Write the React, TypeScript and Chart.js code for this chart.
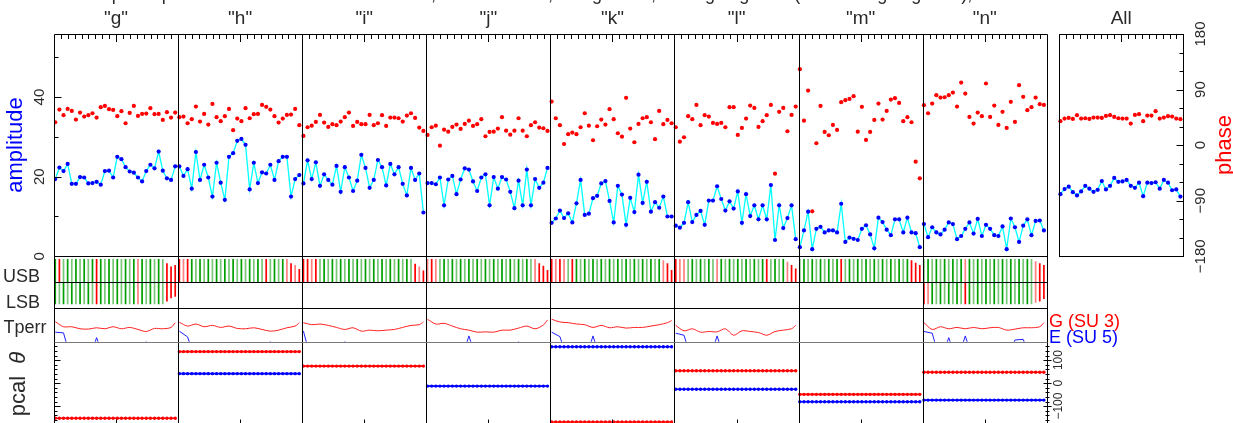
import React, { useEffect, useRef } from 'react';
import { Chart, registerables } from 'chart.js';
Chart.register(...registerables);

const W = 1233;
const H = 440;
const VIEW_H = 423;
const FONT = '"Liberation Sans", Arial, sans-serif';

// ---------- data ----------
const panelNames = ['"g"', '"h"', '"i"', '"j"', '"k"', '"l"', '"m"', '"n"'];
const allName = 'All';
const titleText = 'Amp and phase vs channel for baseline 3-5, sideband usb, 8 segments, 1 integ/segment (1 scan avg/segment), all data';

const ampG = [19.4,22.3,21.4,23.2,18.2,18.2,19.9,19.8,18.3,18.4,18.7,18.0,21.4,21.5,19.8,25.0,24.4,22.4,21.3,21.0,19.8,18.8,21.4,23.0,22.1,26.3,21.5,19.6,19.2,22.6];
const ampH = [22.6,20.2,21.9,17.0,26.2,19.2,23.0,19.8,15.0,23.5,18.5,14.2,25.0,25.9,29.0,29.5,28.0,16.8,23.5,18.4,21.1,20.8,23.0,19.2,23.9,25.0,25.0,15.0,19.4,20.4];
const ampI = [18.3,24.1,19.4,23.6,17.7,20.6,19.2,18.0,22.7,16.2,22.4,19.8,16.4,19.0,25.5,22.2,17.2,19.2,24.2,22.4,17.8,23.2,20.6,22.4,18.2,15.3,22.2,19.2,20.8,11.0];
const ampJ = [18.4,18.4,18.1,19.8,12.8,19.3,20.2,15.6,19.3,22.1,21.8,18.8,16.4,19.8,20.6,12.8,19.9,17.0,19.9,19.3,16.2,12.1,19.0,12.8,21.8,12.8,19.4,17.2,18.5,22.2];
const ampK = [8.4,9.5,11.5,9.6,10.8,8.5,13.3,19.2,10.4,10.7,14.6,15.2,18.3,18.9,13.9,8.5,17.7,15.5,7.9,14.7,11.1,20.5,13.4,18.7,11.2,13.6,12.2,15.0,10.0,10.0];
const ampL = [7.7,7.2,8.4,13.6,8.6,10.4,11.4,7.9,14.0,14.0,17.6,14.4,11.5,13.8,12.0,16.3,8.4,15.6,10.1,12.8,9.3,12.8,9.3,17.9,4.1,12.8,7.1,9.6,12.8,4.3];
const ampM = [2.3,6.5,11.2,1.8,6.9,7.4,6.0,6.5,6.5,6.0,13.2,3.6,4.7,4.4,4.1,6.9,7.8,5.5,2.0,9.7,8.6,6.7,5.3,9.3,9.3,6.0,9.7,6.0,5.8,2.3];
const ampN = [8.1,4.8,7.3,6.0,5.5,6.7,8.5,8.1,4.3,5.1,6.9,8.5,5.7,9.4,5.1,7.9,6.9,5.3,5.1,7.5,1.8,9.5,7.3,3.6,7.7,9.3,5.3,8.9,9.0,6.5];
const ampAll = [15.6,16.9,17.5,16.1,15.3,16.3,17.7,17.0,16.2,16.7,18.9,16.8,17.7,19.7,18.7,18.8,19.2,17.7,17.2,18.5,15.1,18.5,18.4,18.6,17.0,19.2,18.5,16.6,16.8,15.0];

const phaseG = [37.1,57.6,48.5,58.7,55.5,41.4,52.7,46.2,48.5,51.7,44.6,61.5,63.6,58.2,57.1,46.9,55.0,35.5,52.2,63.6,47.4,50.6,51.1,59.9,50.1,50.6,40.9,53.4,44.6,52.7];
const phaseH = [45.3,46.2,35.5,42.0,62.5,38.1,50.6,33.3,66.8,45.3,38.8,46.9,58.7,24.2,43.0,38.8,59.9,43.6,50.1,50.6,65.2,62.0,57.6,46.9,36.5,43.0,49.0,49.5,58.7,32.3];
const phaseI = [14.9,29.0,31.6,37.6,49.0,36.5,29.5,33.9,32.3,38.1,45.3,52.7,31.1,37.6,33.9,33.9,49.0,32.3,35.5,48.5,31.1,44.6,44.6,43.6,38.1,47.9,51.7,44.1,28.4,23.0];
const phaseJ = [16.5,29.0,31.6,-0.8,25.1,21.9,29.5,33.3,26.3,34.4,39.7,31.1,33.9,42.0,14.4,21.4,21.9,26.8,45.3,23.5,17.0,23.5,43.6,23.5,14.4,32.3,37.1,28.4,27.4,23.0];
const phaseK = [70.6,43.6,32.3,1.9,17.7,20.3,17.7,29.0,51.7,31.6,7.9,30.6,41.4,33.3,58.2,42.0,19.3,13.8,76.6,26.8,4.7,34.4,43.6,45.3,37.1,9.6,55.5,33.9,40.9,35.5];
const phaseL = [29.0,5.7,12.8,46.9,42.0,65.2,32.3,48.5,46.2,36.0,34.4,36.0,29.0,61.5,61.5,16.5,27.9,43.0,64.1,60.3,29.5,38.8,48.5,65.2,-46.2,53.9,60.3,22.5,49.0,62.5];
const phaseM = [123.1,39.7,88.4,-107.2,3.1,63.6,21.4,16.0,32.8,24.7,69.6,72.8,74.9,79.3,21.9,62.0,8.4,21.4,40.9,67.3,41.4,55.5,73.8,76.1,68.4,38.8,45.3,37.1,-26.7,-53.7];
const phaseN = [64.7,51.7,67.3,80.9,77.0,77.6,80.9,85.2,62.5,101.4,83.5,45.7,34.9,52.7,46.9,99.8,45.7,64.1,32.8,53.9,27.9,70.1,37.6,97.2,78.2,56.6,61.5,77.0,66.3,65.2];
const phaseAll = [38.8,43.0,44.1,42.5,48.5,43.0,43.6,42.5,44.6,44.6,44.1,47.4,48.5,45.7,43.6,43.0,43.0,34.9,49.0,50.1,38.8,47.9,47.9,55.0,43.0,44.6,46.9,46.2,43.0,42.0];

// sideband bar colour codes: G dark green, g light green, R red, r light red
const usbCodes = [
  'GRgGgGgGgGRGgGgGgGgGrGgGgGgRRR',
  'RrRGgGgGgGgGgGgGgGgGgRgGgGrRrR',
  'RRrRgGgGgGgGgGgGgGgGgGgGgGgRrR',
  'rRrgGgGgGgGgGgGgGgGgGgGgGgrRRR',
  'RrRrgRGgGgGgGgGgGgGgGgGgGgGrRR',
  'RrrgGgGgGgrGgGgGgGgGgGRgGgGrRR',
  'gGgGgGgGgGRgGgGgGgGgGgGgGgGRRR',
  'gGgGgGgGgGrGgGgGgGgGgGgGgGgrRR',
];
const usbTails = [[0.81,0.67,0.74],[0.81,0.74,0.57],[0.79,0.67,0.5],[0.81,0.71,0.52],[0.95,0.81,0.52],[0.88,0.74,0.59],[0.95,0.84,0.74],[0.9,0.81,0.74]];
const lsbCodes = ['GgGgGgGgGgRGgGgGgGgGrGgGgGgRRR', null, null, null, null, null, null, 'RrGgGgGgGgRGgGgGgGgGgGgGgGgrRR'];
const lsbTails = [[0.85,0.71,0.64], null, null, null, null, null, null, [0.9,0.85,0.74]];
const lsbFull = 0.97;

// Tperr, sampled at these channels
const tperrChannels = [0,2,4,6,8,10,12,14,16,18,20,22,24,26,28,29];
const tperrRedG = [0.59,0.44,0.44,0.38,0.37,0.41,0.38,0.44,0.38,0.42,0.36,0.30,0.39,0.38,0.42,0.56];
const tperrRedH = [0.57,0.46,0.52,0.44,0.48,0.42,0.46,0.39,0.38,0.41,0.36,0.31,0.34,0.41,0.46,0.56];
const tperrRedI = [0.56,0.50,0.52,0.48,0.42,0.36,0.41,0.31,0.34,0.32,0.34,0.36,0.42,0.48,0.50,0.58];
const tperrRedJ = [0.66,0.52,0.54,0.46,0.38,0.34,0.28,0.29,0.28,0.34,0.34,0.40,0.46,0.38,0.49,0.64];
const tperrRedK = [0.66,0.58,0.56,0.52,0.50,0.42,0.48,0.41,0.44,0.40,0.42,0.42,0.46,0.50,0.56,0.62];
const tperrRedL = [0.48,0.32,0.38,0.28,0.30,0.29,0.38,0.19,0.32,0.30,0.27,0.19,0.30,0.34,0.38,0.48];
const tperrRedN = [0.56,0.36,0.44,0.38,0.42,0.38,0.42,0.38,0.41,0.42,0.34,0.37,0.41,0.41,0.44,0.56];
const tperrBlueG = [0.28,0.26,-0.6,-0.6,-0.6,0.12,-0.6,-0.6,-0.6,-0.6,-0.6,0.0,-0.6,-0.6,-0.6,-0.6];
const tperrBlueH = [0.31,0.14,-0.6,-0.6,-0.6,-0.6,-0.6,-0.6,-0.6,-0.6,-0.6,0.0,-0.6,-0.6,-0.6,-0.6];
const tperrBlueI = [0.31,-0.6,-0.6,-0.6,-0.6,0.0,-0.6,-0.6,-0.6,-0.6,-0.6,-0.6,-0.6,-0.6,-0.6,-0.6];
const tperrBlueJ = [-0.6,-0.6,-0.6,-0.6,-0.6,0.17,-0.6,-0.6,-0.6,-0.6,-0.6,0.0,-0.6,-0.6,-0.6,-0.6];
const tperrBlueK = [0.28,0.15,-0.6,-0.6,-0.6,0.17,-0.6,-0.6,-0.6,-0.6,-0.6,-0.6,-0.6,-0.6,-0.6,-0.6];
const tperrBlueL = [0.25,0.19,-0.6,-0.6,-0.6,0.17,-0.6,-0.6,-0.6,-0.6,-0.6,-0.6,-0.6,-0.6,-0.6,-0.6];
const tperrBlueN = [0.30,0.25,-0.6,0.12,-0.6,0.17,-0.6,-0.6,-0.6,-0.6,-0.6,0.05,0.07,-0.6,-0.6,-0.6];

const pcalRed = [-153, 137, 74, null, -169, 54, -49, 47];
const pcalBlue = [null, 41, null, -13, 158, -27, -81, -74];

const ampTicks = [0, 20, 40];
const phaseTicks = [-180, -90, 0, 90, 180];
const pcalTicks = [-100, 0, 100];

// ---------- layout ----------
const PANEL_CH = 30;
const ALL_OFFSET = 243;
const X_MAX = 273;
const ROW = { top: 34, ampBottom: 256.3, sbMid: 282, sbBottom: 307.7, tpBottom: 341.7, bottom: 424.5 };
const AREA_LEFT = 54;
const AREA_RIGHT = 1183.3;

function rowRange(top: number, bottom: number, vTop: number, vBottom: number) {
  const ppu = (bottom - top) / (vTop - vBottom);
  return { min: vBottom - (ROW.bottom - bottom) / ppu, max: vTop + (top - ROW.top) / ppu };
}
const AMP_TOP = 55.85;
const ampRange = rowRange(ROW.top, ROW.ampBottom, AMP_TOP, 0);
const phRange = rowRange(ROW.top, ROW.ampBottom, 180, -180);
const sbRange = rowRange(ROW.sbMid - 23, ROW.sbMid + 23, 1, -1);
const tpRange = rowRange(ROW.sbBottom, ROW.tpBottom, 1, 0);
const pcRange = rowRange(ROW.tpBottom, ROW.bottom, 180, -180);

const colourOf: Record<string, string> = { G: '#00a000', g: '#78c878', R: '#ff0000', r: '#ff8080' };
const chX = (p: number, c: number) => p * PANEL_CH + c + 0.3;
const clipRow = (top: number, bottom: number) => ({ left: 0, right: 0, top: -(top - ROW.top), bottom: -(ROW.bottom - bottom) });

function buildDatasets() {
  const ds: any[] = [];
  const amps = [ampG, ampH, ampI, ampJ, ampK, ampL, ampM, ampN];
  const phases = [phaseG, phaseH, phaseI, phaseJ, phaseK, phaseL, phaseM, phaseN];
  const tRed = [tperrRedG, tperrRedH, tperrRedI, tperrRedJ, tperrRedK, tperrRedL, null, tperrRedN];
  const tBlue = [tperrBlueG, tperrBlueH, tperrBlueI, tperrBlueJ, tperrBlueK, tperrBlueL, null, tperrBlueN];
  const ampSets = amps.map((a, p) => ({ arr: a, base: p * PANEL_CH }));
  ampSets.push({ arr: ampAll, base: ALL_OFFSET });
  const phSets = phases.map((a, p) => ({ arr: a, base: p * PANEL_CH }));
  phSets.push({ arr: phaseAll, base: ALL_OFFSET });

  phSets.forEach(({ arr, base }) => {
    ds.push({
      type: 'line', yAxisID: 'yPh', showLine: false, order: 1,
      data: arr.map((v, c) => ({ x: base + c + 0.3, y: v })),
      pointRadius: 2.1, pointBackgroundColor: '#ff0000', pointBorderWidth: 0, borderColor: '#ff0000',
    });
  });
  ampSets.forEach(({ arr, base }) => {
    ds.push({
      type: 'line', yAxisID: 'yAmp', order: 2,
      data: arr.map((v, c) => ({ x: base + c + 0.3, y: v })),
      borderColor: '#00ffff', borderWidth: 1.3, tension: 0,
      pointRadius: 2.1, pointBackgroundColor: '#0000ff', pointBorderWidth: 0,
    });
  });
  // sideband bars
  const usbData: any[] = [];
  const usbCols: string[] = [];
  usbCodes.forEach((code, p) => {
    const tail = usbTails[p];
    for (let c = 0; c < PANEL_CH; c++) {
      const ti = c - (PANEL_CH - tail.length);
      usbData.push({ x: chX(p, c), y: ti >= 0 ? tail[ti] : 1 });
      usbCols.push(colourOf[code[c]]);
    }
  });
  const barStyle = { barThickness: 1.7, grouped: false, borderWidth: 0, inflateAmount: 0, order: 3 };
  ds.push({ type: 'bar', yAxisID: 'ySb', data: usbData, backgroundColor: usbCols, ...barStyle });
  const lsbData: any[] = [];
  const lsbCols: string[] = [];
  lsbCodes.forEach((code, p) => {
    if (!code) return;
    const tail = lsbTails[p] as number[];
    for (let c = 0; c < PANEL_CH; c++) {
      const ti = c - (PANEL_CH - tail.length);
      lsbData.push({ x: chX(p, c), y: -(ti >= 0 ? tail[ti] : lsbFull) });
      lsbCols.push(colourOf[code[c]]);
    }
  });
  ds.push({ type: 'bar', yAxisID: 'ySb', data: lsbData, backgroundColor: lsbCols, ...barStyle });
  // Tperr
  const tclip = clipRow(ROW.sbBottom, ROW.tpBottom);
  tRed.forEach((arr, p) => {
    if (!arr) return;
    ds.push({ type: 'line', yAxisID: 'yTp', data: arr.map((v, i) => ({ x: chX(p, tperrChannels[i]), y: v })), borderColor: '#ff2020', borderWidth: 1, pointRadius: 0, tension: 0.3, clip: tclip, order: 4 });
  });
  tBlue.forEach((arr, p) => {
    if (!arr) return;
    ds.push({ type: 'line', yAxisID: 'yTp', data: arr.map((v, i) => ({ x: chX(p, tperrChannels[i]), y: v })), borderColor: '#2020ff', borderWidth: 1, pointRadius: 0, tension: 0, clip: tclip, order: 4 });
  });
  // pcal
  const pclip = clipRow(ROW.tpBottom, ROW.bottom);
  [[pcalRed, '#ff0000'], [pcalBlue, '#0000ff']].forEach(([vals, col]: any) => {
    vals.forEach((v: number | null, p: number) => {
      if (v === null) return;
      const data = [];
      for (let c = 0; c < PANEL_CH; c++) data.push({ x: chX(p, c), y: v });
      ds.push({ type: 'line', yAxisID: 'yPc', data, borderColor: col, borderWidth: 1.6, pointRadius: 1.7, pointBackgroundColor: col, pointBorderWidth: 0, clip: pclip, order: 5 });
    });
  });
  return ds;
}

const decorPlugin = {
  id: 'decor',
  afterDatasetsDraw(chart: any) {
    const { ctx, scales } = chart;
    const xs = scales.x;
    const yA = scales.yAmp, yP = scales.yPh, yC = scales.yPc;
    const px = (v: number) => xs.getPixelForValue(v);
    const snap = (v: number) => Math.round(v) + 0.5;
    const line = (x1: number, y1: number, x2: number, y2: number, col = '#000') => {
      ctx.strokeStyle = col; ctx.beginPath(); ctx.moveTo(x1, y1); ctx.lineTo(x2, y2); ctx.stroke();
    };
    const rot = (t: string, x: number, y: number, font: string, col: string) => {
      ctx.save(); ctx.translate(x, y); ctx.rotate(-Math.PI / 2);
      ctx.font = font; ctx.fillStyle = col; ctx.textAlign = 'center'; ctx.textBaseline = 'alphabetic';
      ctx.fillText(t, 0, 0); ctx.restore();
    };
    ctx.save();
    ctx.lineWidth = 1;
    const NP = panelNames.length;
    const x0 = snap(px(0)), x1 = snap(px(NP * PANEL_CH));
    for (let p = 0; p <= NP; p++) {
      const x = snap(px(p * PANEL_CH));
      line(x, snap(ROW.top), x, ROW.bottom + 2);
    }
    [ROW.top, ROW.ampBottom, ROW.sbMid, ROW.sbBottom].forEach((y) => line(x0, snap(y), x1, snap(y)));
    line(x0, snap(ROW.tpBottom), x1, snap(ROW.tpBottom), '#7a7a7a');
    const a0 = snap(px(ALL_OFFSET)), a1 = snap(px(ALL_OFFSET + PANEL_CH));
    ctx.strokeStyle = '#000';
    ctx.strokeRect(a0, snap(ROW.top), a1 - a0, snap(ROW.ampBottom) - snap(ROW.top));
    // top ticks
    const bases = panelNames.map((_, p) => p * PANEL_CH).concat([ALL_OFFSET]);
    bases.forEach((b) => {
      for (let k = 1; k < 18; k++) {
        const x = snap(px(b + (k * PANEL_CH) / 18));
        line(x, ROW.top, x, ROW.top + (k === 9 ? 8 : 5));
      }
    });
    // bottom ticks at centres
    for (let p = 0; p < NP; p++) {
      const x = snap(px(p * PANEL_CH + PANEL_CH / 2));
      line(x, ROW.bottom, x, ROW.bottom - 5);
    }
    // amplitude ticks (left)
    for (let v = 10; v <= 50; v += 10) {
      const y = snap(yA.getPixelForValue(v));
      line(x0, y, x0 + (v % 20 === 0 ? 7 : 4), y);
    }
    // phase ticks (right of All)
    for (let v = -150; v <= 150; v += 30) {
      const y = snap(yP.getPixelForValue(v));
      line(a1, y, a1 - (v % 90 === 0 ? 7 : 4), y);
    }
    // pcal ticks
    for (let v = -160; v <= 160; v += 20) {
      const y = snap(yC.getPixelForValue(v));
      const major = v % 100 === 0;
      line(x0, y, x0 + (major ? 6 : 3), y);
      line(x1 - (major ? 4 : 2), y, x1 + (major ? 4 : 2), y);
    }

    // texts
    const dark = '#2a2a2a';
    ctx.font = `19px ${FONT}`;
    ctx.fillStyle = dark;
    ctx.textAlign = 'center';
    ctx.textBaseline = 'alphabetic';
    panelNames.forEach((n, p) => ctx.fillText(n, px(p * PANEL_CH + PANEL_CH / 2), 23.5));
    ctx.fillText(allName, px(ALL_OFFSET + PANEL_CH / 2), 23.5);
    ctx.font = `18px ${FONT}`;
    ctx.fillText(titleText, 560, 0);

    rot('amplitude', 22, 145, `22px ${FONT}`, '#0000ff');
    rot('phase', 1230.5, 145, `22px ${FONT}`, '#ff0000');
    ampTicks.forEach((v) => rot(String(v), 43.5, yA.getPixelForValue(v), `15px ${FONT}`, dark));
    phaseTicks.forEach((v) => rot(v < 0 ? '\u2212' + Math.abs(v) : String(v), 1205, yP.getPixelForValue(v), `15px ${FONT}`, dark));
    pcalTicks.forEach((v) => rot(v < 0 ? '\u2212' + Math.abs(v) : String(v), 1062, yC.getPixelForValue(v), `12px ${FONT}`, dark));

    ctx.font = `18px ${FONT}`;
    ctx.fillStyle = dark;
    ctx.textAlign = 'center';
    ctx.fillText('USB', 21.5, 282);
    ctx.fillText('LSB', 23, 308);
    ctx.fillText('Tperr', 25, 333);
    ctx.textAlign = 'left';
    ctx.fillStyle = '#ff0000';
    ctx.fillText('G (SU 3)', 1049, 326.5);
    ctx.fillStyle = '#0000ff';
    ctx.fillText('E (SU 5)', 1049, 342.5);

    // pcal theta label
    ctx.save();
    ctx.translate(25, 384);
    ctx.rotate(-Math.PI / 2);
    ctx.fillStyle = dark;
    ctx.font = `22px ${FONT}`;
    const w1 = ctx.measureText('pcal  ').width;
    ctx.font = `italic 22px ${FONT}`;
    const w2 = ctx.measureText('\u03b8').width;
    const start = -(w1 + w2) / 2;
    ctx.textAlign = 'left';
    ctx.font = `22px ${FONT}`;
    ctx.fillText('pcal', start, 0);
    ctx.font = `italic 22px ${FONT}`;
    ctx.fillText('\u03b8', start + w1, 0);
    ctx.restore();

    ctx.restore();
  },
};

export default function App() {
  const ref = useRef<HTMLCanvasElement>(null);
  useEffect(() => {
    const canvas = ref.current;
    if (!canvas) return;
    const chart = new Chart(canvas, {
      type: 'line',
      data: { datasets: buildDatasets() },
      options: {
        responsive: false,
        animation: false,
        devicePixelRatio: 1,
        events: [],
        layout: { padding: { left: AREA_LEFT, right: W - AREA_RIGHT, top: ROW.top, bottom: H - ROW.bottom } },
        plugins: { legend: { display: false }, tooltip: { enabled: false }, title: { display: false } },
        scales: {
          x: { type: 'linear', display: false, min: 0, max: X_MAX, offset: false },
          yAmp: { type: 'linear', display: false, min: ampRange.min, max: ampRange.max },
          yPh: { type: 'linear', display: false, min: phRange.min, max: phRange.max },
          ySb: { type: 'linear', display: false, min: sbRange.min, max: sbRange.max },
          yTp: { type: 'linear', display: false, min: tpRange.min, max: tpRange.max },
          yPc: { type: 'linear', display: false, min: pcRange.min, max: pcRange.max },
        },
      } as any,
      plugins: [decorPlugin],
    });
    return () => chart.destroy();
  }, []);
  return (
    <div style={{ position: 'absolute', left: 0, top: 0, width: W, height: VIEW_H, overflow: 'hidden', background: '#fff' }}>
      <canvas ref={ref} width={W} height={H} style={{ width: W, height: H, display: 'block' }} />
    </div>
  );
}
